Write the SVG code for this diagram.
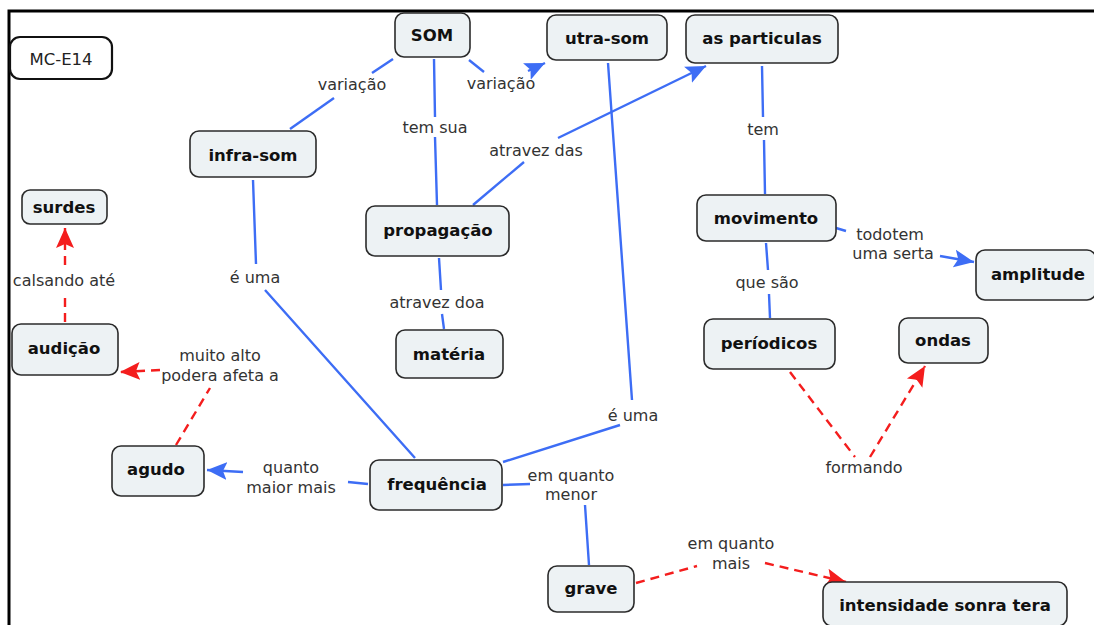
<svg xmlns="http://www.w3.org/2000/svg" width="1094" height="625" viewBox="0 0 1094 625">
<style>
.node rect{fill:#edf2f4;stroke:#2b2b2b;stroke-width:1.6}
.node text{font-family:"DejaVu Sans",Verdana,sans-serif;font-weight:bold;font-size:16.5px;fill:#111;text-anchor:middle;dominant-baseline:central}
.lbl{font-family:"DejaVu Sans",Verdana,sans-serif;font-size:16px;fill:#333;text-anchor:middle}
.b{stroke:#3d6df5;stroke-width:2.4;fill:none}
.r{stroke:#f41d1d;stroke-width:2.4;fill:none;stroke-dasharray:9,6}
</style>
<defs>
<marker id="ab" markerUnits="userSpaceOnUse" markerWidth="22" markerHeight="20" refX="20" refY="9" orient="auto" viewBox="0 0 22 18"><path d="M0,0 L20,9 L0,18 L4,9 Z" fill="#3d6df5"/></marker>
<marker id="ar" markerUnits="userSpaceOnUse" markerWidth="22" markerHeight="20" refX="20" refY="9" orient="auto" viewBox="0 0 22 18"><path d="M0,0 L20,9 L0,18 L4,9 Z" fill="#f41d1d"/></marker>
</defs>
<rect width="1094" height="625" fill="#fff"/>
<path d="M9,625 V11 H1094" fill="none" stroke="#000" stroke-width="3"/>
<g id="connectors">
<path class="b" d="M393,59 L372,73"/>
<path class="b" d="M334,98 L290,129"/>
<path class="b" d="M469,60 L484,72"/>
<path class="b" d="M528,71 L545,63" marker-end="url(#ab)"/>
<path class="b" d="M434,59 L435,117 M435,137 L437,205"/>
<path class="b" d="M473,205 L524,162"/>
<path class="b" d="M558,138 L706,66" marker-end="url(#ab)"/>
<path class="b" d="M608,63 L632,400 M620,425 L503,462"/>
<path class="b" d="M762,66 L763,117 M764,140 L765,194"/>
<path class="b" d="M766,243 L768,270 M769,294 L770,318"/>
<path class="b" d="M836,228 L846,231"/>
<path class="b" d="M940,256 L974,262" marker-end="url(#ab)"/>
<path class="b" d="M253,180 L256,264 M265,290 L415,458"/>
<path class="b" d="M439,258 L441,290 M442,314 L444,329"/>
<path class="b" d="M368,484 L348,482"/>
<path class="b" d="M243,472 L207,470" marker-end="url(#ab)"/>
<path class="b" d="M503,485 L530,484 M585,505 L589,565"/>
<path class="r" d="M790,372 L855,457"/>
<path class="r" d="M870,457 L925,366" marker-end="url(#ar)"/>
<path class="r" d="M176,445 L210,388"/>
<path class="r" d="M160,370 L120,372" marker-end="url(#ar)"/>
<path class="r" d="M65,322 L65,295 M65,265 L65,228" marker-end="url(#ar)"/>
<path class="r" d="M636,583 L697,566"/>
<path class="r" d="M765,563 L846,582" marker-end="url(#ar)"/>
</g>
<g id="labels">
<text class="lbl" x="352" y="90">variação</text>
<text class="lbl" x="501" y="89">variação</text>
<text class="lbl" x="435" y="133">tem sua</text>
<text class="lbl" x="536" y="156">atravez das</text>
<text class="lbl" x="763" y="135">tem</text>
<text class="lbl" x="255" y="283">é uma</text>
<text class="lbl" x="64" y="286">calsando até</text>
<text class="lbl" x="437" y="308">atravez doa</text>
<text class="lbl" x="767" y="288">que são</text>
<text class="lbl" x="890" y="240">todotem</text>
<text class="lbl" x="893" y="259">uma serta</text>
<text class="lbl" x="220" y="361">muito alto</text>
<text class="lbl" x="220" y="381">podera afeta a</text>
<text class="lbl" x="633" y="421">é uma</text>
<text class="lbl" x="291" y="473">quanto</text>
<text class="lbl" x="291" y="493">maior mais</text>
<text class="lbl" x="571" y="481">em quanto</text>
<text class="lbl" x="571" y="500">menor</text>
<text class="lbl" x="864" y="473">formando</text>
<text class="lbl" x="731" y="549">em quanto</text>
<text class="lbl" x="731" y="569">mais</text>
</g>
<g id="mc-e14"><rect x="10" y="37" width="102" height="42" rx="10" fill="#fff" stroke="#111" stroke-width="2.2"/><text x="61" y="59" font-family="DejaVu Sans,Verdana,sans-serif" font-size="16.5" fill="#222" text-anchor="middle" dominant-baseline="central">MC-E14</text></g>
<g id="som" class="node"><rect x="395" y="13" width="75" height="44" rx="9"/><text x="432" y="35">SOM</text></g>
<g id="utra-som" class="node"><rect x="547" y="15" width="120" height="45" rx="9"/><text x="607" y="38">utra-som</text></g>
<g id="as-particulas" class="node"><rect x="686" y="15" width="152" height="48" rx="9"/><text x="762" y="38">as particulas</text></g>
<g id="infra-som" class="node"><rect x="190" y="131" width="126" height="46" rx="9"/><text x="253" y="155">infra-som</text></g>
<g id="surdes" class="node"><rect x="22" y="190" width="85" height="34" rx="8"/><text x="64" y="207">surdes</text></g>
<g id="propagacao" class="node"><rect x="366" y="206" width="143" height="50" rx="9"/><text x="438" y="230">propagação</text></g>
<g id="movimento" class="node"><rect x="697" y="195" width="139" height="46" rx="9"/><text x="766" y="218">movimento</text></g>
<g id="amplitude" class="node"><rect x="976" y="250" width="120" height="50" rx="9"/><text x="1038" y="274">amplitude</text></g>
<g id="audicao" class="node"><rect x="12" y="324" width="106" height="51" rx="9"/><text x="64" y="348">audição</text></g>
<g id="materia" class="node"><rect x="396" y="330" width="107" height="48" rx="9"/><text x="449" y="354">matéria</text></g>
<g id="periodicos" class="node"><rect x="704" y="319" width="131" height="50" rx="9"/><text x="769" y="343">períodicos</text></g>
<g id="ondas" class="node"><rect x="899" y="318" width="89" height="45" rx="9"/><text x="943" y="340">ondas</text></g>
<g id="agudo" class="node"><rect x="112" y="446" width="92" height="50" rx="9"/><text x="156" y="469">agudo</text></g>
<g id="frequencia" class="node"><rect x="370" y="460" width="132" height="50" rx="9"/><text x="437" y="484">frequência</text></g>
<g id="grave" class="node"><rect x="548" y="566" width="86" height="46" rx="9"/><text x="591" y="588">grave</text></g>
<g id="intensidade" class="node"><rect x="823" y="582" width="244" height="44" rx="9"/><text x="945" y="605">intensidade sonra tera</text></g>
</svg>
